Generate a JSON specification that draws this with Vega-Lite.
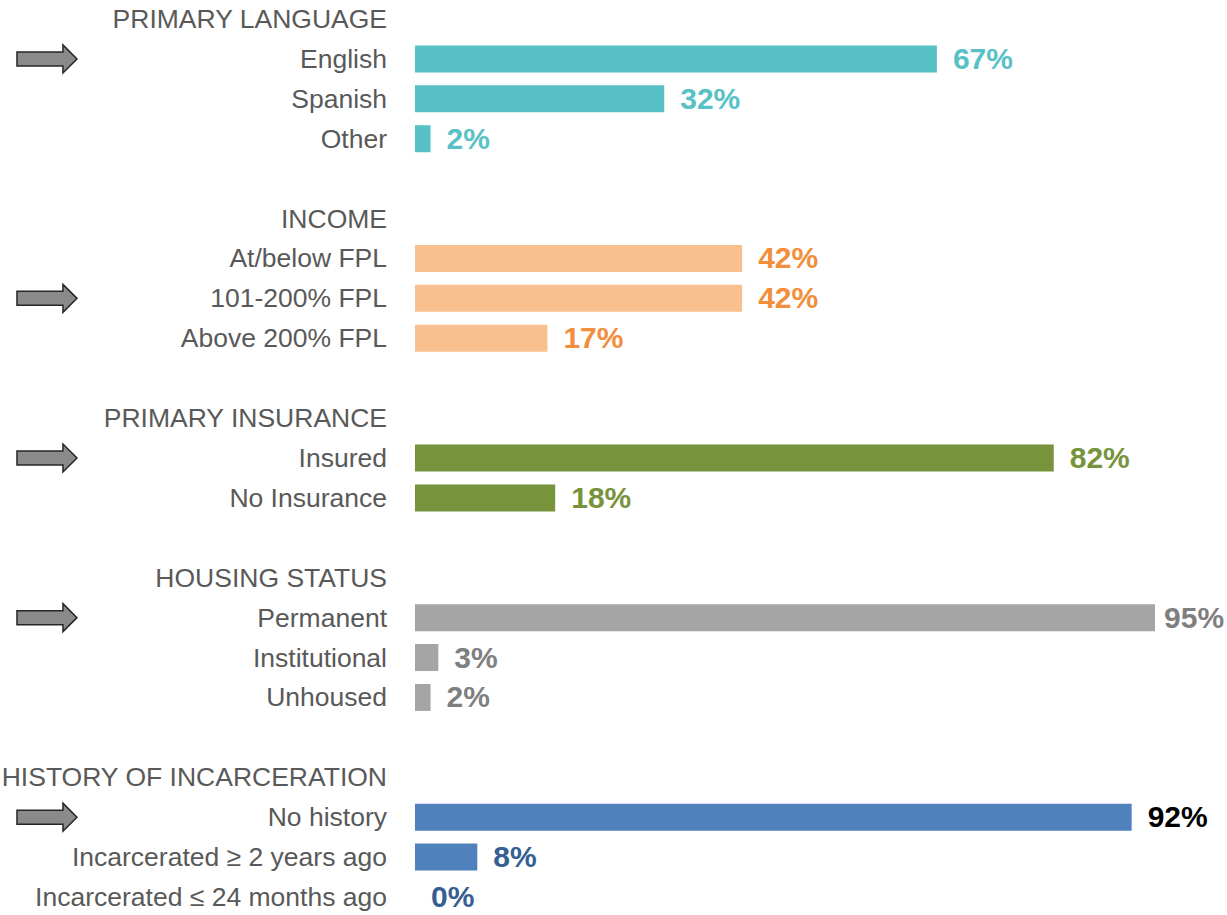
{
  "$schema": "https://vega.github.io/schema/vega-lite/v6.json",
  "width": 1227,
  "height": 915,
  "autosize": {"type": "none"},
  "padding": 0,
  "background": "white",
  "config": {"view": {"stroke": null}},
  "data": {
    "values": [
      {"row": 0, "label": "PRIMARY LANGUAGE", "group": "language", "value": null, "arrow": false},
      {"row": 1, "label": "English", "group": "language", "value": 0.67, "arrow": true},
      {"row": 2, "label": "Spanish", "group": "language", "value": 0.32, "arrow": false},
      {"row": 3, "label": "Other", "group": "language", "value": 0.02, "arrow": false},
      {"row": 5, "label": "INCOME", "group": "income", "value": null, "arrow": false},
      {"row": 6, "label": "At/below FPL", "group": "income", "value": 0.42, "arrow": false},
      {"row": 7, "label": "101-200% FPL", "group": "income", "value": 0.42, "arrow": true},
      {"row": 8, "label": "Above 200% FPL", "group": "income", "value": 0.17, "arrow": false},
      {"row": 10, "label": "PRIMARY INSURANCE", "group": "insurance", "value": null, "arrow": false},
      {"row": 11, "label": "Insured", "group": "insurance", "value": 0.82, "arrow": true},
      {"row": 12, "label": "No Insurance", "group": "insurance", "value": 0.18, "arrow": false},
      {"row": 14, "label": "HOUSING STATUS", "group": "housing", "value": null, "arrow": false},
      {"row": 15, "label": "Permanent", "group": "housing", "value": 0.95, "arrow": true},
      {"row": 16, "label": "Institutional", "group": "housing", "value": 0.03, "arrow": false},
      {"row": 17, "label": "Unhoused", "group": "housing", "value": 0.02, "arrow": false},
      {"row": 19, "label": "HISTORY OF INCARCERATION", "group": "incarceration", "value": null, "arrow": false},
      {"row": 20, "label": "No history", "group": "incarceration", "value": 0.92, "arrow": true},
      {"row": 21, "label": "Incarcerated ≥ 2 years ago", "group": "incarceration", "value": 0.08, "arrow": false},
      {"row": 22, "label": "Incarcerated ≤ 24 months ago", "group": "incarceration", "value": 0.0, "arrow": false}
    ]
  },
  "encoding": {
    "y": {"field": "row", "type": "quantitative", "axis": null,
          "scale": {"domain": [-0.476, 22.451], "reverse": true, "nice": false, "zero": false, "padding": 0}}
  },
  "layer": [
    {
      "transform": [{"filter": "datum.value != null"}],
      "mark": {"type": "bar", "orient": "horizontal", "size": 27},
      "encoding": {
        "x": {"field": "value", "type": "quantitative", "stack": null, "axis": null,
              "scale": {"domain": [-0.5327, 1.0424], "nice": false, "zero": false, "padding": 0}},
        "x2": {"datum": 0},
        "color": {"field": "group", "type": "nominal", "legend": null,
                  "scale": {"domain": ["language", "income", "insurance", "housing", "incarceration"],
                            "range": ["#57C1C6", "#F9C08F", "#77933C", "#A5A5A5", "#4F81BD"]}}
      }
    },
    {
      "transform": [{"filter": "datum.value != null && datum.value < 0.94"}],
      "mark": {"type": "text", "align": "left", "baseline": "middle", "dx": 16, "dy": 1,
               "font": "Liberation Sans", "fontWeight": "bold", "fontSize": 30},
      "encoding": {
        "x": {"field": "value", "type": "quantitative"},
        "text": {"field": "value", "type": "quantitative", "format": ".0%"},
        "color": {"condition": {"test": "datum.label === 'No history'", "value": "#000000"},
                  "field": "group", "type": "nominal", "legend": null,
                  "scale": {"domain": ["language", "income", "insurance", "housing", "incarceration"],
                            "range": ["#57C1C6", "#F28E3C", "#77933C", "#7F7F7F", "#355E91"]}}
      }
    },
    {
      "transform": [{"filter": "datum.value != null && datum.value >= 0.94"}],
      "mark": {"type": "text", "align": "left", "baseline": "middle", "dx": 9, "dy": 1,
               "font": "Liberation Sans", "fontWeight": "bold", "fontSize": 30},
      "encoding": {
        "x": {"field": "value", "type": "quantitative"},
        "text": {"field": "value", "type": "quantitative", "format": ".0%"},
        "color": {"field": "group", "type": "nominal", "legend": null,
                  "scale": {"domain": ["language", "income", "insurance", "housing", "incarceration"],
                            "range": ["#57C1C6", "#F28E3C", "#77933C", "#7F7F7F", "#355E91"]}}
      }
    },
    {
      "mark": {"type": "text", "align": "right", "baseline": "middle", "dy": 1,
               "font": "Liberation Sans", "fontSize": 26.5, "color": "#595959"},
      "encoding": {
        "x": {"datum": -0.0359},
        "text": {"field": "label", "type": "nominal"}
      }
    },
    {
      "transform": [{"filter": "datum.arrow"}],
      "mark": {"type": "point", "filled": true, "size": 3600, "fill": "#8A8A8A", "stroke": "#262626", "strokeWidth": 1.5, "opacity": 1,
               "shape": "M-1,-0.233L0.533,-0.233L0.533,-0.467L1,0L0.533,0.467L0.533,0.233L-1,0.233Z"},
      "encoding": {
        "x": {"datum": -0.4724}
      }
    }
  ],
  "resolve": {"scale": {"color": "independent"}}
}
